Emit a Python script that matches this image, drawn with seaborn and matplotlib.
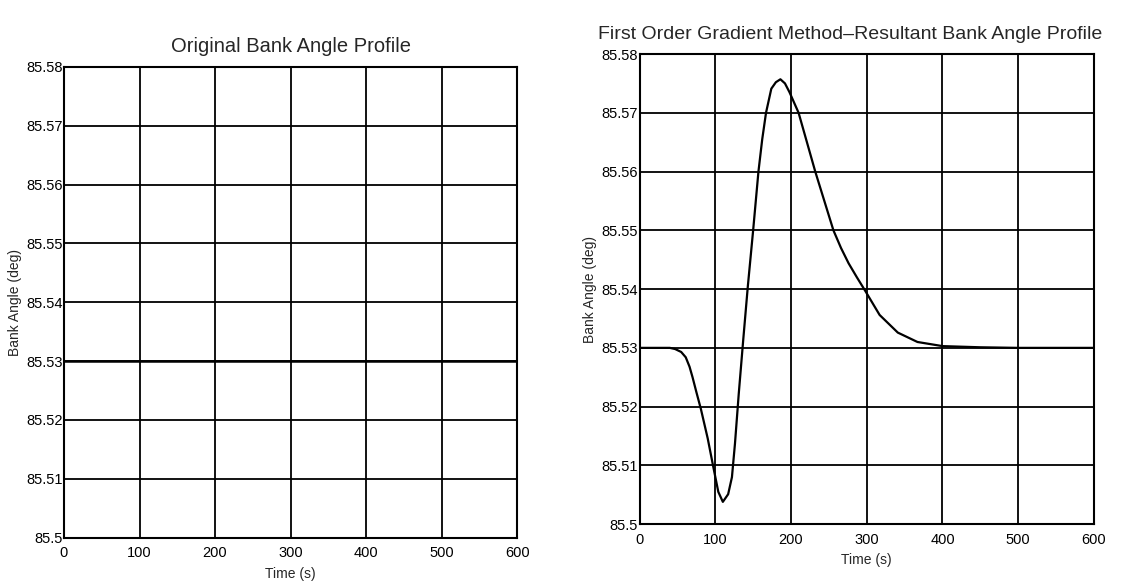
import pandas as pd
import matplotlib
matplotlib.use("Agg")
import matplotlib.pyplot as plt
import seaborn as sns

# original profile (constant)
orig_time = [0, 100, 200, 300, 400, 500, 600]
orig_angle = [85.53, 85.53, 85.53, 85.53, 85.53, 85.53, 85.53]

# first order gradient result
grad_time = [0, 20, 40, 47, 55, 61, 66, 70, 75, 81, 90, 97, 104, 110, 117, 122, 126, 131,
             137, 143, 150, 157, 162, 167, 174, 180, 186, 192, 198, 210, 221, 232,
             244, 256, 266, 276, 287, 298, 317, 341, 367, 400, 450, 500, 550, 600]
grad_angle = [85.5300, 85.5300, 85.5300, 85.5298, 85.5293, 85.5284, 85.5268, 85.5250,
              85.5225, 85.5196, 85.5146, 85.5100, 85.5055, 85.5038, 85.5051, 85.5080,
              85.5137, 85.5222, 85.5315, 85.5405, 85.5500, 85.5600, 85.5655, 85.5700,
              85.5741, 85.5752, 85.5757, 85.5750, 85.5735, 85.5700, 85.5650, 85.5600,
              85.5550, 85.5500, 85.5470, 85.5444, 85.5420, 85.5397, 85.5356, 85.5326,
              85.5310, 85.5303, 85.5301, 85.5300, 85.5300, 85.5300]

y_ticks = [85.5, 85.51, 85.52, 85.53, 85.54, 85.55, 85.56, 85.57, 85.58]
y_tick_labels = ["85.5", "85.51", "85.52", "85.53", "85.54", "85.55", "85.56", "85.57", "85.58"]
x_ticks = [0, 100, 200, 300, 400, 500, 600]

titles = ["Original Bank Angle Profile",
          "First Order Gradient Method\u2013Resultant Bank Angle Profile"]

sns.set_style("whitegrid")
plt.rcParams['font.family'] = ['Liberation Sans', 'DejaVu Sans']

fig = plt.figure(figsize=(11.22, 5.87), dpi=100)
ax1 = fig.add_axes([0.057, 0.084, 0.404, 0.802])
ax2 = fig.add_axes([0.570, 0.107, 0.405, 0.801])

df_orig = pd.DataFrame({"Time": orig_time, "Angle": orig_angle})
df_grad = pd.DataFrame({"Time": grad_time, "Angle": grad_angle})

sns.lineplot(data=df_orig, x="Time", y="Angle", ax=ax1, color="black", linewidth=1.8)
sns.lineplot(data=df_grad, x="Time", y="Angle", ax=ax2, color="black", linewidth=1.6)

for ax, title, tsize, tx in [(ax1, titles[0], 14.5, 0.5), (ax2, titles[1], 14, 0.463)]:
    ax.set_xlim(0, 600)
    ax.set_ylim(85.5, 85.58)
    ax.set_xticks(x_ticks)
    ax.set_yticks(y_ticks)
    ax.set_yticklabels(y_tick_labels)
    ax.grid(True, color="black", linewidth=1.3, linestyle="-")
    for s in ax.spines.values():
        s.set_color("black")
        s.set_linewidth(1.5)
        s.set_visible(True)
    ax.tick_params(axis="y", labelsize=10.5, colors="black", length=0, pad=1)
    ax.tick_params(axis="x", labelsize=10.5, colors="black", length=0, pad=6)
    ax.set_xlabel("Time (s)", fontsize=10, labelpad=5)
    ax.set_ylabel("Bank Angle (deg)", fontsize=10, labelpad=3)
    ax.set_title(title, fontsize=tsize, pad=11, x=tx)
    ax.set_facecolor("white")

fig.savefig("out.png", dpi=100, facecolor="white")
